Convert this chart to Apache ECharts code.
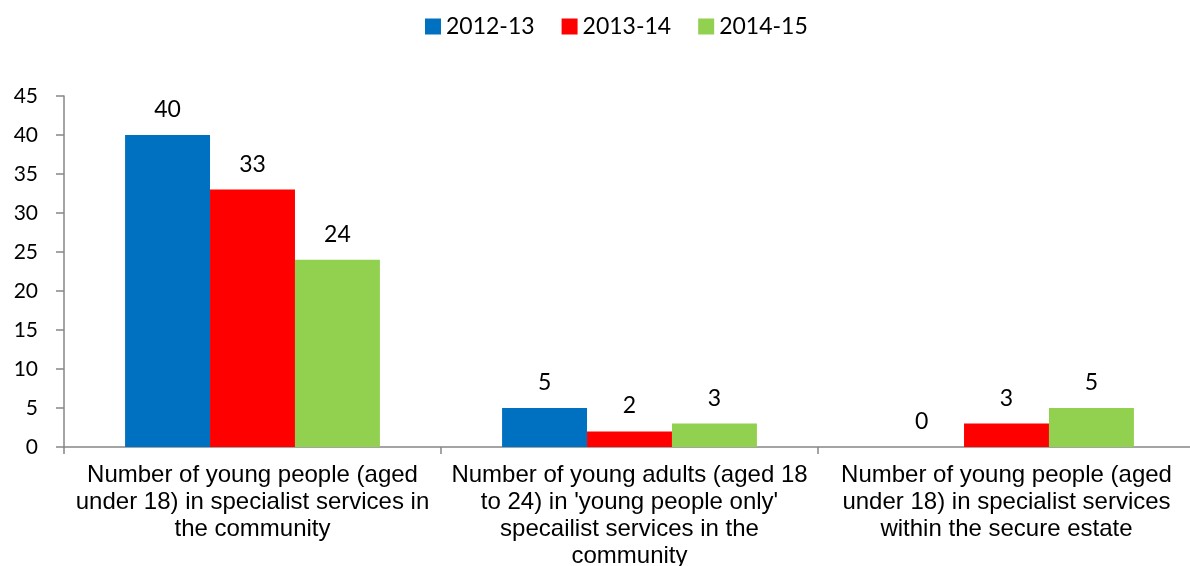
<!DOCTYPE html>
<html><head><meta charset="utf-8">
<script src="https://cdn.jsdelivr.net/npm/echarts@6/dist/echarts.min.js"></script>
<style>html,body{margin:0;padding:0;background:#fff;overflow:hidden}#c{width:1190px;height:566px}</style>
</head><body><div id="c"></div>
<script>
const categories = [
  "Number of young people (aged\nunder 18) in specialist services in\nthe community",
  "Number of young adults (aged 18\nto 24) in 'young people only'\nspecailist services in the\ncommunity",
  "Number of young people (aged\nunder 18) in specialist services\nwithin the secure estate"
];
const seriesNames = ["2012-13", "2013-14", "2014-15"];
const s2012 = [40, 5, 0];
const s2013 = [33, 2, 3];
const s2014 = [24, 3, 5];
const colors = ["#0070C0", "#FF0000", "#92D050"];
const lblFont = "Lato, 'Open Sans', sans-serif";
const chart = echarts.init(document.getElementById('c'));
const mk = (name, data, color) => ({
  name, type: 'bar', data, barGap: '0%', barCategoryGap: '32.4%',
  itemStyle: { color },
  label: { show: true, position: 'top', distance: 14, color: '#000', fontSize: 23, fontFamily: lblFont }
});
chart.setOption({
  animation: false,
  color: colors,
  legend: {
    top: 10, left: 420, itemWidth: 16, itemHeight: 16, itemGap: 27,
    icon: 'rect',
    textStyle: { fontSize: 23, fontFamily: lblFont, color: '#000' },
    data: seriesNames
  },
  grid: { left: 64, width: 1131, top: 96, bottom: 119, containLabel: false, outerBoundsMode: 'none' },
  xAxis: {
    type: 'category', data: categories,
    axisLine: { lineStyle: { color: '#868686', width: 1.5 } },
    axisTick: { show: true, length: 7, lineStyle: { color: '#868686', width: 1.5 } },
    axisLabel: { interval: 0, fontSize: 24, lineHeight: 27, margin: 15, color: '#000', fontFamily: "'Liberation Sans', Arial, sans-serif" }
  },
  yAxis: {
    type: 'value', min: 0, max: 45, interval: 5,
    axisLine: { show: true, lineStyle: { color: '#868686', width: 1.5 } },
    axisTick: { show: true, length: 8, lineStyle: { color: '#868686', width: 1.5 } },
    splitLine: { show: false },
    axisLabel: { fontSize: 21, color: '#000', margin: 26, fontFamily: lblFont }
  },
  series: [mk(seriesNames[0], s2012, colors[0]), mk(seriesNames[1], s2013, colors[1]), mk(seriesNames[2], s2014, colors[2])]
});
</script></body></html>
